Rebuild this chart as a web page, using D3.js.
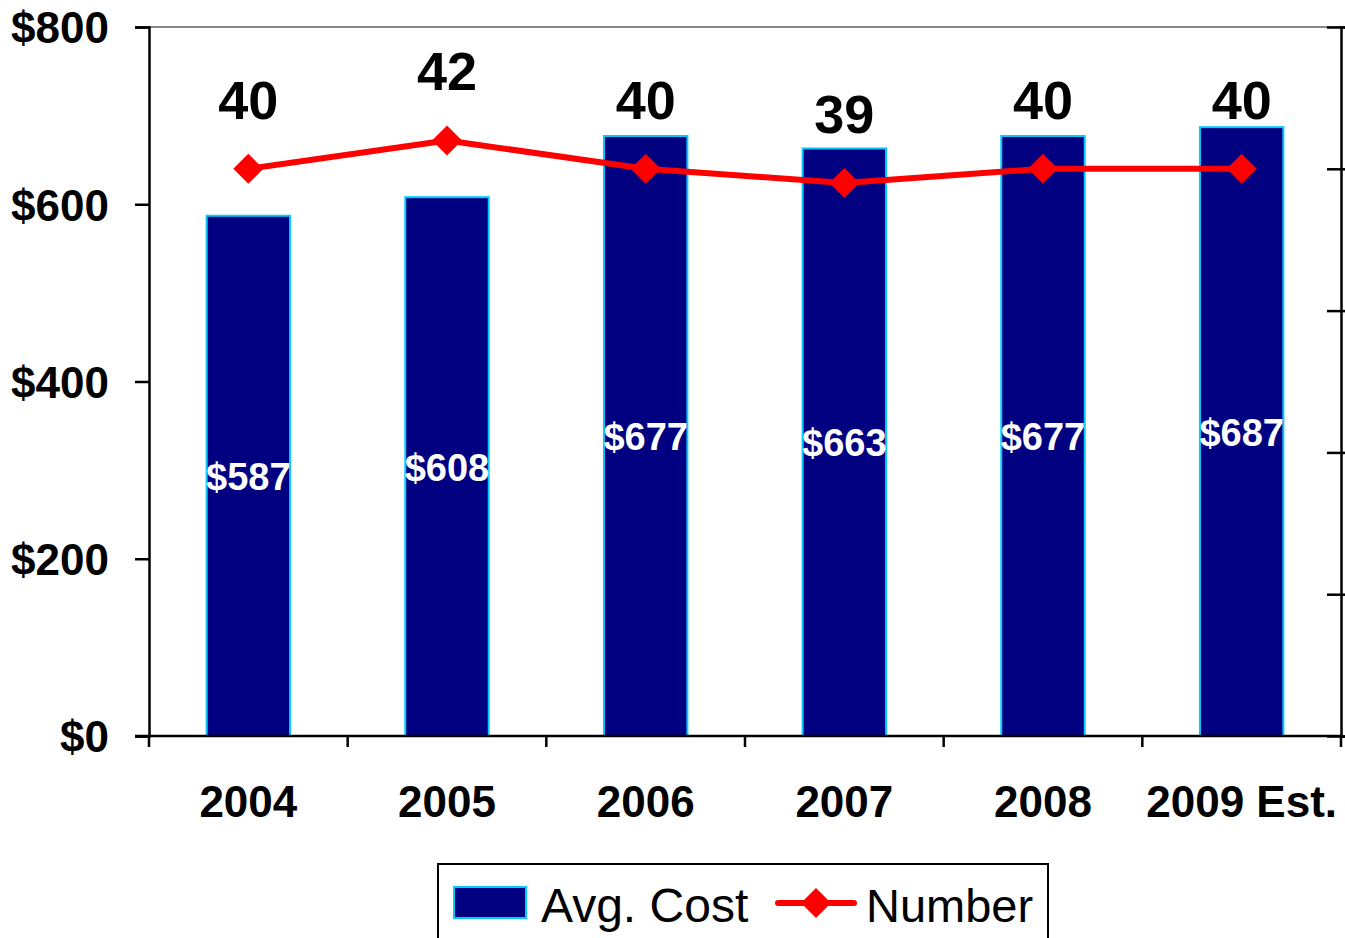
<!DOCTYPE html>
<html>
<head>
<meta charset="utf-8">
<script src="https://cdn.jsdelivr.net/npm/d3@7"></script>
<style>
  html, body { margin: 0; padding: 0; background: #fff; }
  svg { display: block; font-family: Arial, "Liberation Sans", sans-serif; }
</style>
</head>
<body>
<svg id="chart" width="1345" height="938"></svg>
<script>
const categories = ["2004", "2005", "2006", "2007", "2008", "2009 Est."];
const avgCost = [587, 608, 677, 663, 677, 687];
const numberSeries = [40, 42, 40, 39, 40, 40];
const leftTicks = [0, 200, 400, 600, 800];
const rightTicks = [0, 10, 20, 30, 40, 50];
const seriesNames = ["Avg. Cost", "Number"];

const svg = d3.select("#chart");
const plot = { left: 149, right: 1341, top: 27, bottom: 736 };

const x = d3.scaleBand().domain(categories).range([plot.left, plot.right]).padding(0);
const yL = d3.scaleLinear().domain([0, 800]).range([plot.bottom, plot.top]);
const yR = d3.scaleLinear().domain([0, 50]).range([plot.bottom, plot.top]);
const barW = x.bandwidth() * 0.42;

// top border of plot area
svg.append("line").attr("x1", plot.left).attr("x2", plot.right)
  .attr("y1", plot.top).attr("y2", plot.top)
  .attr("stroke", "#888").attr("stroke-width", 2);

// bars
svg.append("g").selectAll("rect").data(avgCost).join("rect")
  .attr("x", (d, i) => x(categories[i]) + x.bandwidth() / 2 - barW / 2)
  .attr("y", d => yL(d))
  .attr("width", barW)
  .attr("height", d => yL(0) - yL(d))
  .attr("fill", "#000080")
  .attr("stroke", "#00CCFF")
  .attr("stroke-width", 2);

// bar labels
svg.append("g").selectAll("text").data(avgCost).join("text")
  .attr("x", (d, i) => x(categories[i]) + x.bandwidth() / 2)
  .attr("y", d => (yL(d) + yL(0)) / 2 + 14)
  .attr("text-anchor", "middle")
  .attr("fill", "#fff")
  .attr("font-weight", "bold")
  .attr("font-size", 38)
  .text(d => "$" + d);

// left axis
const axL = d3.axisLeft(yL).tickValues(leftTicks).tickFormat(d => "$" + d).tickSize(14).tickPadding(26);
const gL = svg.append("g").attr("transform", `translate(${plot.left},0)`).call(axL);
gL.select(".domain").attr("stroke", "#000").attr("stroke-width", 2.5);
gL.selectAll(".tick line").attr("stroke", "#000").attr("stroke-width", 2.5);
gL.selectAll(".tick text").attr("font-size", 44).attr("font-weight", "bold").attr("fill", "#000")
  .attr("font-family", "Arial, 'Liberation Sans', sans-serif").attr("dy", "0.36em");

// right axis
const axR = d3.axisRight(yR).tickValues(rightTicks).tickFormat("").tickSize(4);
const gR = svg.append("g").attr("transform", `translate(${plot.right},0)`).call(axR);
gR.select(".domain").attr("stroke", "#000").attr("stroke-width", 2.5);
gR.selectAll(".tick line").attr("stroke", "#000").attr("stroke-width", 2.5).attr("x1", -14);

// bottom axis
const bandEdges = categories.map(c => x(c)).concat([plot.right]);
const gB = svg.append("g").attr("transform", `translate(0,${plot.bottom})`);
gB.append("line").attr("x1", plot.left - 14).attr("x2", plot.right)
  .attr("stroke", "#000").attr("stroke-width", 2.5);
gB.selectAll("line.tk").data(bandEdges).join("line").attr("class", "tk")
  .attr("x1", d => d).attr("x2", d => d).attr("y1", 0).attr("y2", 11)
  .attr("stroke", "#000").attr("stroke-width", 2.5);
gB.selectAll("text").data(categories).join("text")
  .attr("x", d => x(d) + x.bandwidth() / 2)
  .attr("y", 81)
  .attr("text-anchor", "middle")
  .attr("font-size", 44).attr("font-weight", "bold").attr("fill", "#000")
  .text(d => d);

// line
const cx = (i) => x(categories[i]) + x.bandwidth() / 2;
const line = d3.line().x((d, i) => cx(i)).y(d => yR(d));
svg.append("path").datum(numberSeries).attr("d", line)
  .attr("fill", "none").attr("stroke", "#FF0000").attr("stroke-width", 6)
  .attr("stroke-linejoin", "round");
const diamond = (s) => `M0,${-s}L${s},0L0,${s}L${-s},0Z`;
svg.append("g").selectAll("path").data(numberSeries).join("path")
  .attr("transform", (d, i) => `translate(${cx(i)},${yR(d)})`)
  .attr("d", diamond(15)).attr("fill", "#FF0000");

// number labels
svg.append("g").selectAll("text").data(numberSeries).join("text")
  .attr("x", (d, i) => cx(i))
  .attr("y", d => yR(d) - 50)
  .attr("text-anchor", "middle")
  .attr("font-size", 54).attr("font-weight", "bold").attr("fill", "#000")
  .text(d => d);

// legend
const lg = svg.append("g");
lg.append("rect").attr("x", 438).attr("y", 864).attr("width", 610).attr("height", 90)
  .attr("fill", "#fff").attr("stroke", "#000").attr("stroke-width", 2);
lg.append("rect").attr("x", 454).attr("y", 887).attr("width", 72).attr("height", 31)
  .attr("fill", "#000080").attr("stroke", "#00CCFF").attr("stroke-width", 2);
lg.append("text").attr("x", 541).attr("y", 922).attr("font-size", 48).attr("fill", "#000")
  .text(seriesNames[0]);
lg.append("line").attr("x1", 778).attr("x2", 854).attr("y1", 903).attr("y2", 903)
  .attr("stroke", "#FF0000").attr("stroke-width", 6).attr("stroke-linecap", "round");
lg.append("path").attr("transform", "translate(816,903)").attr("d", diamond(15)).attr("fill", "#FF0000");
lg.append("text").attr("x", 866).attr("y", 922).attr("font-size", 47).attr("fill", "#000")
  .text(seriesNames[1]);
</script>
</body>
</html>
